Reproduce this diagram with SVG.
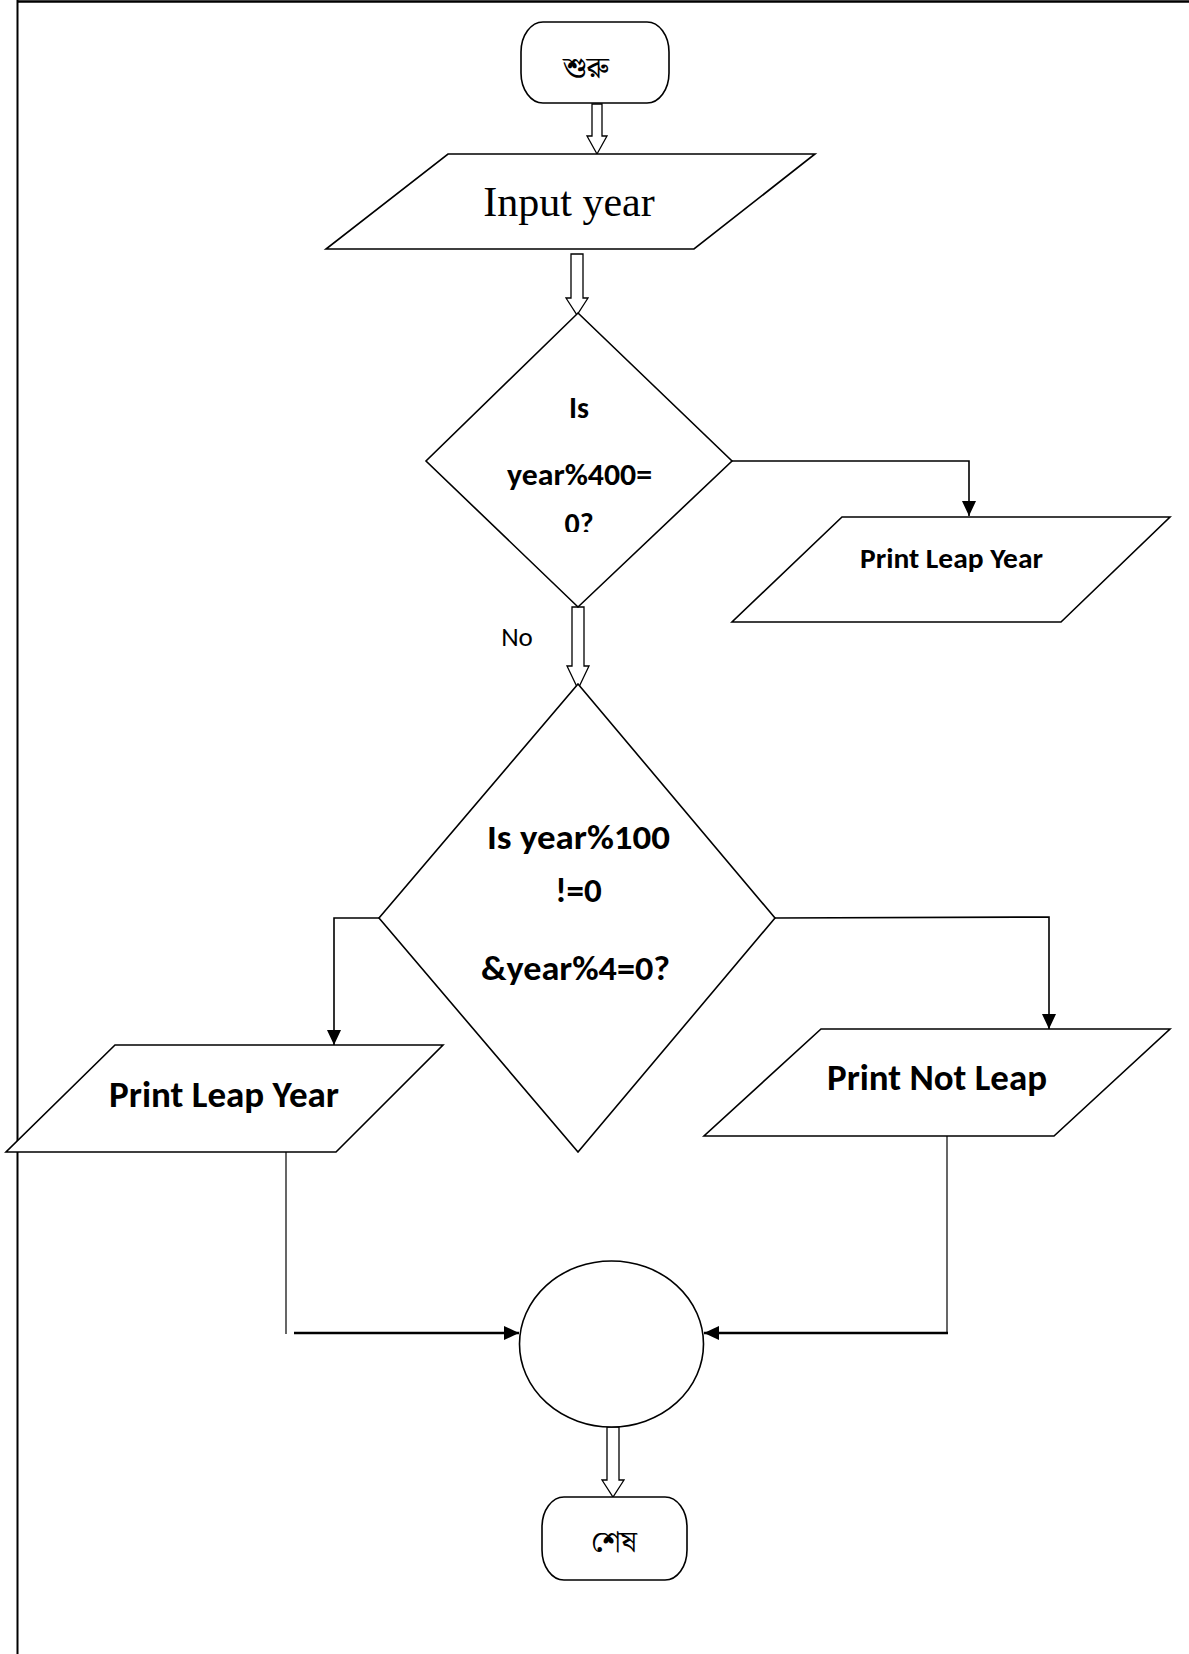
<svg xmlns="http://www.w3.org/2000/svg" width="1189" height="1654" viewBox="0 0 1189 1654">
<style>
.shape{fill:#fff;stroke:#000;stroke-width:1.6}
.hollow{fill:#fff;stroke:#000;stroke-width:1.3;stroke-linejoin:miter}
.conn{fill:none;stroke:#000;stroke-width:1.6}
.thin{fill:none;stroke:#000;stroke-width:1.2}
.thick{fill:none;stroke:#000;stroke-width:2.6}
.lbl{font-family:Carlito,Lato,"Open Sans","Liberation Sans",sans-serif;font-weight:bold;fill:#000;text-anchor:middle}
.reg{font-family:Carlito,Lato,"Open Sans","Liberation Sans",sans-serif;fill:#000;text-anchor:middle}
.bn{font-family:"Noto Serif Bengali","Noto Sans Bengali","Lohit Bengali",Vrinda,"Noto Sans",serif;fill:#000;text-anchor:middle}
</style>
<defs>
<marker id="ah" markerUnits="userSpaceOnUse" markerWidth="16" markerHeight="14" refX="15" refY="7" orient="auto">
<path d="M0,0 L15,7 L0,14 z" fill="#000"/>
</marker>
<clipPath id="clipD1"><rect x="420" y="300" width="320" height="232"/></clipPath>
</defs>
<rect x="0" y="0" width="1189" height="1654" fill="#fff"/>
<g id="page-border">
<line x1="17" y1="1.5" x2="1189" y2="1.5" stroke="#000" stroke-width="2.5"/>
<line x1="17.5" y1="0" x2="17.5" y2="1654" stroke="#000" stroke-width="2"/>
</g>
<g id="connectors">
<path class="hollow" d="M592,104 L602,104 L602,136 L607,136 L597,154 L587,136 L592,136 Z"/>
<path class="hollow" d="M571,254 L583,254 L583,298 L588,298 L577,315 L566,298 L571,298 Z"/>
<path class="hollow" d="M572,607 L584,607 L584,666 L589,666 L578,689 L567,666 L572,666 Z"/>
<path class="hollow" d="M607,1427 L619,1427 L619,1480 L624,1480 L613,1497 L602,1480 L607,1480 Z"/>
<polyline class="conn" points="732,461 969,461 969,516" marker-end="url(#ah)"/>
<polyline class="conn" points="379,918 334,918 334,1045" marker-end="url(#ah)"/>
<polyline class="conn" points="775,918 1049,917 1049,1029" marker-end="url(#ah)"/>
<line class="thin" x1="286" y1="1152" x2="286" y2="1334"/>
<line class="thick" x1="294" y1="1333" x2="519" y2="1333" marker-end="url(#ah)"/>
<line class="thin" x1="947" y1="1136" x2="947" y2="1334"/>
<line class="thick" x1="948" y1="1333" x2="704" y2="1333" marker-end="url(#ah)"/>
</g>
<g id="start">
<rect class="shape" x="521" y="22" width="148" height="81" rx="22" ry="30"/>
<text class="bn" x="586" y="78" font-size="30">শুরু</text>
</g>
<g id="input">
<polygon class="shape" points="448,154 815,154 694,249 326,249"/>
<text x="569" y="216" font-family="'Liberation Serif','Times New Roman',serif" font-size="42" text-anchor="middle">Input year</text>
</g>
<g id="decision1">
<polygon class="shape" points="578,313 732,461 578,607 426,461"/>
<g clip-path="url(#clipD1)">
<text class="lbl" x="579" y="418" font-size="30">Is</text>
<text class="lbl" x="579.5" y="485" font-size="30" textLength="145" lengthAdjust="spacingAndGlyphs">year%400=</text>
<text class="lbl" x="579" y="534" font-size="30">0?</text>
</g>
<text class="reg" x="517" y="646" font-size="27">No</text>
</g>
<g id="print-leap-1">
<polygon class="shape" points="842,517 1170,517 1061,622 732,622"/>
<text class="lbl" x="951.5" y="568" font-size="29" textLength="183" lengthAdjust="spacingAndGlyphs">Print Leap Year</text>
</g>
<g id="decision2">
<polygon class="shape" points="578,684 775,918 578,1152 379,918"/>
<text class="lbl" x="578.5" y="849" font-size="35" textLength="183" lengthAdjust="spacingAndGlyphs">Is year%100</text>
<text class="lbl" x="578.5" y="902" font-size="35">!=0</text>
<text class="lbl" x="575.5" y="980" font-size="35" textLength="189" lengthAdjust="spacingAndGlyphs">&amp;year%4=0?</text>
</g>
<g id="print-leap-2">
<polygon class="shape" points="115,1045 443,1045 336,1152 6,1152"/>
<text class="lbl" x="224" y="1107" font-size="36" textLength="230" lengthAdjust="spacingAndGlyphs">Print Leap Year</text>
</g>
<g id="print-not-leap">
<polygon class="shape" points="821,1029 1170,1029 1054,1136 704,1136"/>
<text class="lbl" x="937" y="1090" font-size="36" textLength="220" lengthAdjust="spacingAndGlyphs">Print Not Leap</text>
</g>
<g id="connector-circle">
<ellipse class="shape" cx="611.5" cy="1344" rx="92" ry="83"/>
</g>
<g id="end">
<rect class="shape" x="542" y="1497" width="145" height="83" rx="22" ry="30"/>
<text class="bn" x="614" y="1552" font-size="30">শেষ</text>
</g>
</svg>
